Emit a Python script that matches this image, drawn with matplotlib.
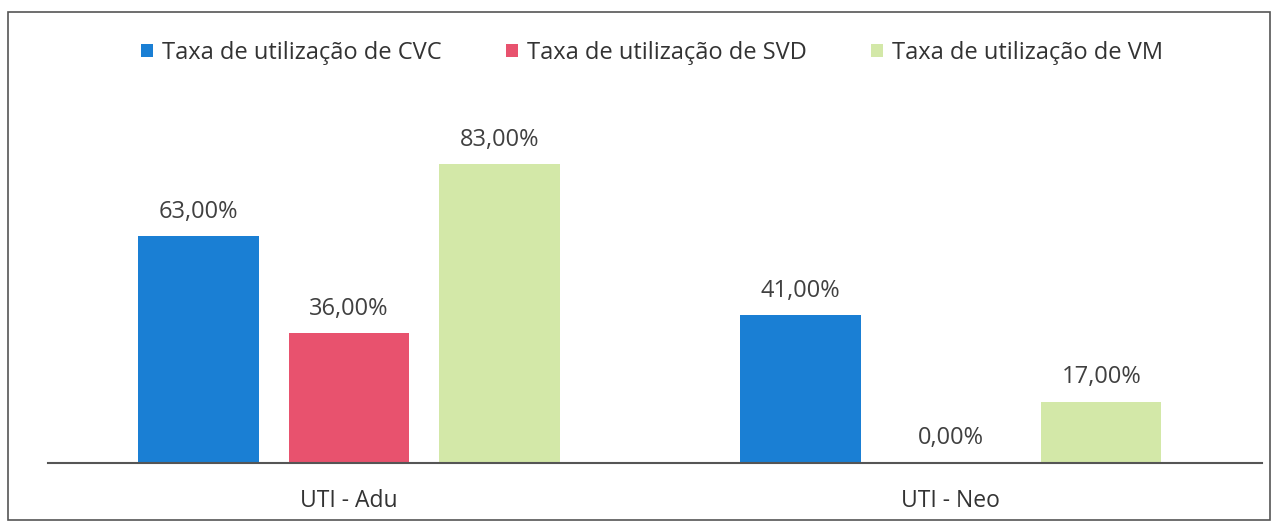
import numpy as np
import matplotlib.pyplot as plt
from matplotlib.patches import Rectangle

categorias = ["UTI - Adu", "UTI - Neo"]
series = ["Taxa de utilização de CVC", "Taxa de utilização de SVD", "Taxa de utilização de VM"]
cvc = [63.0, 41.0]
svd = [36.0, 0.0]
vm = [83.0, 17.0]
cores = ["#1a7fd4", "#e8526e", "#d3e8a8"]

plt.rcParams['font.family'] = ['Open Sans', 'DejaVu Sans']

fig = plt.figure(figsize=(12.78, 5.22), dpi=100)
ax = fig.add_axes([48 / 1278, 59 / 522, 1214 / 1278, 360 / 522])

# moldura da figura
fig.patches.append(Rectangle((8 / 1278, 2 / 522), 1262 / 1278, 508 / 522,
                             transform=fig.transFigure, fill=False,
                             edgecolor="#555555", lw=1.2))

x = np.arange(len(categorias))
largura = 0.2
passo = 0.25
for i, (nome, vals) in enumerate(zip(series, [cvc, svd, vm])):
    pos = x + (i - 1) * passo
    barras = ax.bar(pos, vals, largura, color=cores[i], label=nome)
    for p, v in zip(pos, vals):
        ax.text(p, v + 3.5, f"{v:.2f}%".replace(".", ","), ha="center", va="bottom",
                fontsize=17, color="#404040")

ax.set_xlim(-0.5, 1.517)
ax.set_ylim(0, 100)
ax.set_yticks([])
ax.set_xticks(x)
ax.set_xticklabels(categorias, fontsize=16.5, color="#333333")
ax.tick_params(axis="x", length=0, pad=19)
for s in ["top", "right", "left"]:
    ax.spines[s].set_visible(False)
ax.spines["bottom"].set_color("#555555")
ax.spines["bottom"].set_linewidth(1.5)

fig.legend(loc="center left", bbox_to_anchor=(120 / 1278, 1 - 53 / 522), ncol=3,
           frameon=False, fontsize=17, handlelength=0.5, handleheight=0.5,
           handletextpad=0.4, columnspacing=2.7, labelcolor="#333333")

fig.savefig("out.png", dpi=100)
